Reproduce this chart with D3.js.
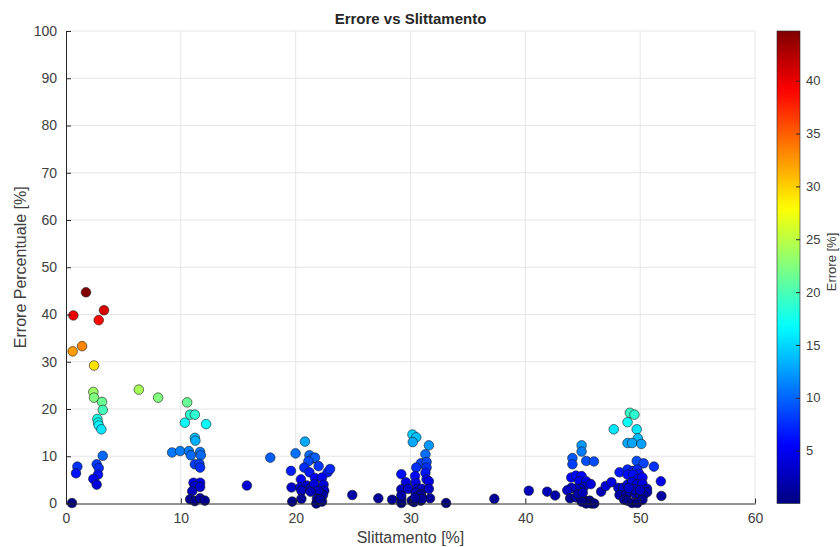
<!DOCTYPE html>
<html>
<head>
<meta charset="utf-8">
<script src="https://cdn.jsdelivr.net/npm/d3@7"></script>
<style>
  body { margin: 0; background: #fff; }
  svg text { font-family: "Liberation Sans", Arial, sans-serif; }
</style>
</head>
<body>
<div id="chart"></div>
<script>
// slip [%] for each measurement
var slipValues = [
    1.74, 0.64, 3.31, 2.85, 0.58, 1.40, 2.44, 2.38, 2.44, 3.14, 3.20, 2.73, 2.79, 2.85, 3.08, 3.20,
    0.99, 0.87, 2.67, 2.85, 2.79, 2.38, 2.67, 0.52, 6.34, 8.02,
    10.55, 10.81, 11.22, 10.35, 12.20, 11.22, 11.27, 9.24, 9.94, 10.70, 10.87, 11.68, 11.74, 11.22,
    11.62, 11.68, 11.10, 11.68, 11.22, 11.68, 10.99, 10.81, 11.22, 11.68, 12.09, 15.75, 17.79,
    20.81, 19.99, 21.20, 21.45, 21.68, 21.10, 20.75, 22.00, 22.78, 23.00, 19.59, 21.20, 20.46, 21.68,
    22.30, 20.98, 21.33, 21.62, 19.64, 20.40, 20.50, 22.43, 22.49, 22.38, 21.97, 19.70, 20.50, 21.85,
    21.80, 22.30, 24.93, 21.30, 22.10,
    27.2, 28.4, 29.2, 29.2, 30.17, 30.5, 30.2, 31.6, 31.3, 30.9, 31.4, 30.5, 31.4, 29.2, 30.4, 31.3,
    31.4, 31.6, 29.6, 30.45, 30.6, 29.2, 29.8, 31.0, 31.6, 30.45, 30.9, 29.2, 30.1, 30.9, 30.9, 31.7,
    33.1, 37.3, 40.3, 30.3, 31.0, 30.4,
    41.9, 42.6, 44.9, 44.9, 44.1, 44.1, 45.3, 45.97, 44.0, 44.4, 44.9, 44.7, 45.3, 45.1, 45.7, 44.8,
    44.4, 44.0, 43.65, 43.9, 44.4, 44.9, 45.2, 45.6, 45.75, 46.0, 45.3, 44.9, 46.6, 47.0, 47.5, 44.6, 45.0,
    47.7, 49.1, 49.5, 48.9, 49.7, 49.8, 48.9, 49.3, 50.1, 49.7, 50.3, 51.2, 48.2, 48.9, 49.4, 49.75,
    49.9, 48.9, 49.4, 49.8, 50.2, 51.8, 48.1, 48.5, 48.9, 49.3, 49.75, 50.2, 50.6, 50.6, 48.2, 48.8,
    49.1, 49.6, 50.0, 50.3, 48.6, 48.9, 49.3, 49.75, 50.2, 51.85, 49.5, 49.0, 50.0
]
// percentage error for each measurement (same order)
var errValues = [
    44.7, 39.8, 40.9, 38.8, 32.2, 33.3, 29.2, 23.6, 22.4, 21.5, 19.8, 17.9, 17.1, 16.5, 15.7, 10.1,
    7.8, 6.4, 8.3, 7.5, 6.1, 5.2, 4.0, 0.1, 24.1, 22.4,
    21.4, 18.8, 18.8, 17.1, 16.8, 13.9, 13.3, 10.8, 11.1, 11.1, 10.2, 10.9, 10.2, 8.3,
    8.4, 7.6, 4.4, 4.4, 3.7, 3.5, 2.6, 0.9, 0.5, 1.1, 0.6, 3.8, 9.7,
    13.1, 10.6, 10.2, 9.5, 9.7, 8.9, 7.6, 7.9, 6.6, 7.3, 6.9, 6.6, 5.1, 5.4,
    5.5, 3.8, 3.3, 4.1, 3.4, 3.4, 2.7, 4.0, 2.7, 1.8, 2.7, 0.4, 1.0, 1.0,
    0.0, 0.4, 1.8, 2.5, 0.9,
    1.1, 0.8, 1.0, 0.1, 14.6, 14.0, 13.0, 12.3, 10.4, 8.5, 8.8, 7.6, 7.6, 6.2, 5.8, 6.5,
    5.1, 4.7, 4.5, 4.4, 3.1, 3.0, 3.1, 3.1, 3.1, 2.3, 2.0, 1.7, 0.6, 0.6, 1.7, 1.1,
    0.1, 1.0, 2.7, 0.3, 1.0, 1.2,
    2.5, 1.7, 12.3, 11.0, 9.6, 8.3, 9.0, 8.9, 5.5, 5.9, 5.8, 4.7, 4.7, 3.5, 4.1, 3.1,
    3.1, 3.3, 2.8, 1.1, 1.3, 1.0, 0.6, 0.6, 0.0, 0.0, 0.0, 0.4, 2.5, 3.7, 4.5, 2.0, 2.3,
    15.7, 19.2, 18.8, 17.2, 15.7, 13.8, 12.8, 12.8, 12.6, 9.0, 8.5, 7.8, 6.6, 7.2, 6.9, 7.2,
    6.3, 6.1, 6.1, 5.2, 5.5, 4.7, 3.3, 3.3, 4.0, 4.5, 4.1, 4.2, 3.1, 2.4, 1.8, 2.0,
    2.5, 2.0, 1.7, 1.8, 0.8, 0.6, 0.1, 0.1, 0.8, 1.6, 3.0, 3.3, 2.8
]

var xTicks = [0, 10, 20, 30, 40, 50, 60]
var yTicks = [0, 10, 20, 30, 40, 50, 60, 70, 80, 90, 100]
var cbarTicks = [5, 10, 15, 20, 25, 30, 35, 40]

var width = 840
var height = 547
var axisColor = "#262626"
var textColor = "#404040"

// MATLAB jet colormap
function jet(t) {
    var c = v => Math.round(255 * Math.max(0, Math.min(1, v)))
    return d3.rgb(c(1.5 - Math.abs(4 * t - 3)), c(1.5 - Math.abs(4 * t - 2)), c(1.5 - Math.abs(4 * t - 1))).toString()
}

var data = slipValues.map((s, i) => ({slip: s, err: errValues[i]}))

var svg = d3.select("#chart")
    .append("svg")
    .attr("width", width)
    .attr("height", height)

var xScale = d3.scaleLinear().domain([0, 60]).range([66, 755])
var yScale = d3.scaleLinear().domain([0, 100]).range([503.5, 31])

var errExtent = d3.extent(errValues)
var colorNorm = d3.scaleLinear().domain(errExtent).range([0, 1]).clamp(true)

// grid
svg.append("g")
    .selectAll("line.vgrid")
    .data(xTicks.slice(1))
    .enter().append("line")
    .attr("x1", d => xScale(d)).attr("x2", d => xScale(d))
    .attr("y1", yScale(0)).attr("y2", yScale(100))
    .attr("stroke", "#e6e6e6")
svg.append("g")
    .selectAll("line.hgrid")
    .data(yTicks.slice(1))
    .enter().append("line")
    .attr("x1", xScale(0)).attr("x2", xScale(60))
    .attr("y1", d => yScale(d)).attr("y2", d => yScale(d))
    .attr("stroke", "#e6e6e6")

// points
svg.append("g")
    .selectAll("circle")
    .data(data)
    .enter().append("circle")
    .attr("cx", d => xScale(d.slip))
    .attr("cy", d => yScale(d.err))
    .attr("r", 4.8)
    .attr("fill", d => jet(colorNorm(d.err)))
    .attr("stroke", "#1a1a1a")
    .attr("stroke-width", 0.6)

// axes
var xAxis = svg.append("g")
    .attr("transform", "translate(0," + yScale(0) + ")")
    .call(d3.axisBottom(xScale).tickValues(xTicks).tickSizeInner(-5).tickSizeOuter(0).tickPadding(10))
var yAxis = svg.append("g")
    .attr("transform", "translate(" + xScale(0) + ",0)")
    .call(d3.axisLeft(yScale).tickValues(yTicks).tickSizeInner(-5).tickSizeOuter(0).tickPadding(9))

;[xAxis, yAxis].forEach(ax => {
    ax.select(".domain").attr("stroke", axisColor)
    ax.selectAll(".tick line").attr("stroke", axisColor)
    ax.selectAll(".tick text")
        .attr("fill", textColor)
        .attr("font-size", "14px")
        .attr("font-family", "'Liberation Sans', Arial, sans-serif")
})

// title and labels
svg.append("text")
    .attr("x", (xScale(0) + xScale(60)) / 2)
    .attr("y", 24)
    .attr("text-anchor", "middle")
    .attr("font-size", "15px")
    .attr("font-weight", "bold")
    .attr("fill", "#262626")
    .text("Errore vs Slittamento")

svg.append("text")
    .attr("x", (xScale(0) + xScale(60)) / 2)
    .attr("y", 543)
    .attr("text-anchor", "middle")
    .attr("font-size", "16px")
    .attr("fill", textColor)
    .text("Slittamento [%]")

svg.append("text")
    .attr("transform", "translate(26," + (yScale(0) + yScale(100)) / 2 + ") rotate(-90)")
    .attr("text-anchor", "middle")
    .attr("font-size", "16px")
    .attr("fill", textColor)
    .text("Errore Percentuale [%]")

// colorbar
var cbX = 777
var cbW = 23
var cbScale = d3.scaleLinear().domain(errExtent).range([503.5, 31])

var defs = svg.append("defs")
var grad = defs.append("linearGradient")
    .attr("id", "jetGrad")
    .attr("x1", 0).attr("y1", 1).attr("x2", 0).attr("y2", 0)
grad.selectAll("stop")
    .data(d3.range(0, 1.0001, 0.02))
    .enter().append("stop")
    .attr("offset", d => d)
    .attr("stop-color", d => jet(d))

svg.append("rect")
    .attr("x", cbX)
    .attr("y", cbScale.range()[1])
    .attr("width", cbW)
    .attr("height", cbScale.range()[0] - cbScale.range()[1])
    .attr("fill", "url(#jetGrad)")
    .attr("stroke", axisColor)
    .attr("stroke-width", 0.6)

var cbAxis = svg.append("g")
    .attr("transform", "translate(" + (cbX + cbW) + ",0)")
    .call(d3.axisRight(cbScale).tickValues(cbarTicks).tickSizeInner(-4).tickSizeOuter(0).tickPadding(6))
cbAxis.select(".domain").remove()
cbAxis.selectAll(".tick line").attr("stroke", axisColor)
cbAxis.selectAll(".tick text")
    .attr("fill", textColor)
    .attr("font-size", "13px")
    .attr("font-family", "'Liberation Sans', Arial, sans-serif")

svg.append("text")
    .attr("transform", "translate(836," + 262 + ") rotate(-90)")
    .attr("text-anchor", "middle")
    .attr("font-size", "13px")
    .attr("fill", textColor)
    .text("Errore [%]")
</script>
</body>
</html>
